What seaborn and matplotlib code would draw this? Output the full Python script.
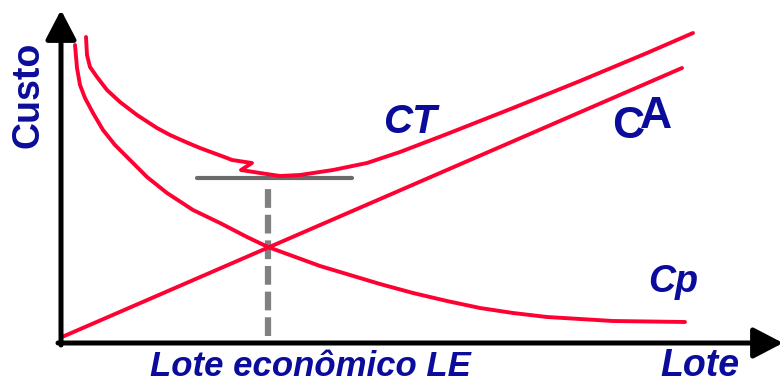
import pandas as pd
import seaborn as sns
import matplotlib.pyplot as plt

# curve points (lote, custo)
ct_lote = [0.25, 0.26, 0.29, 0.36, 0.46, 0.59, 0.76, 0.96, 1.09, 1.27, 1.39, 1.66,
           1.71, 1.91, 1.80, 1.99, 2.19, 2.39, 2.72, 3.06, 3.39, 3.86, 4.52, 5.19,
           5.86, 6.32]
ct_custo = [3.06, 2.88, 2.76, 2.66, 2.53, 2.41, 2.28, 2.15, 2.08, 2.00, 1.95, 1.85,
            1.83, 1.80, 1.73, 1.70, 1.67, 1.68, 1.73, 1.80, 1.91, 2.09, 2.35, 2.62,
            2.90, 3.10]

ca_lote = [0.01, 6.21]
ca_custo = [0.06, 2.75]

cp_lote = [0.14, 0.16, 0.19, 0.24, 0.32, 0.42, 0.54, 0.66, 0.86, 1.06, 1.32, 1.59,
           1.86, 2.07, 2.59, 3.19, 3.52, 3.86, 4.19, 4.52, 4.86, 5.19, 5.52, 6.24]
cp_custo = [2.98, 2.75, 2.58, 2.45, 2.30, 2.13, 1.98, 1.86, 1.66, 1.50, 1.33, 1.20,
            1.06, 0.96, 0.77, 0.59, 0.50, 0.42, 0.35, 0.30, 0.26, 0.24, 0.22, 0.21]

lote_economico = 2.07
custo_minimo = 1.65

RED = "#ff0033"
NAVY = "#0c0c9c"

df = pd.DataFrame(
    {
        "lote": ct_lote + ca_lote + cp_lote,
        "custo": ct_custo + ca_custo + cp_custo,
        "curva": ["CT"] * len(ct_lote) + ["CA"] * len(ca_lote) + ["Cp"] * len(cp_lote),
    }
)

sns.set_theme(style="white")
plt.rcParams["font.family"] = ["Liberation Sans", "DejaVu Sans"]

fig = plt.figure(figsize=(7.83, 3.83), dpi=100)
ax = fig.add_axes([0, 0, 1, 1])
ax.set_xlim(-0.61, 7.22)
ax.set_ylim(-0.40, 3.43)
ax.axis("off")

# minimum line and dashed guide
ax.plot([1.36, 2.91], [custo_minimo, custo_minimo], color="#6a6a6a", lw=3, zorder=1)
ax.plot([lote_economico, lote_economico], [0.07, 1.58], color="#808080", lw=4.5,
        dashes=(3, 1.1), zorder=1)

sns.lineplot(
    data=df, x="lote", y="custo", hue="curva",
    palette={"CT": RED, "CA": RED, "Cp": RED},
    sort=False, estimator=None, legend=False, linewidth=2.8,
    solid_joinstyle="round", ax=ax, zorder=2,
)

# axes with arrow heads
arrow = dict(arrowstyle="-|>,head_length=0.9,head_width=0.47", color="black",
             lw=3.6, mutation_scale=20, shrinkA=0, shrinkB=0)
ax.annotate("", xy=(7.22, 0.0), xytext=(-0.03, 0.0), arrowprops=arrow)
ax.annotate("", xy=(0.0, 3.33), xytext=(0.0, -0.02), arrowprops=arrow)

ax.text(-0.33, 2.48, "Custo", rotation=90, ha="center", va="center",
        fontsize=27, fontweight="bold", color=NAVY)
ax.text(3.49, 2.21, "CT", ha="center", va="center", fontsize=29,
        fontweight="bold", fontstyle="italic", color=NAVY)
ax.text(5.67, 2.17, "C", ha="center", va="center", fontsize=32,
        fontweight="bold", color=NAVY)
ax.text(5.95, 2.27, "A", ha="center", va="center", fontsize=32,
        fontweight="bold", color=NAVY)
ax.text(5.87, 0.51, "Cp", ha="left", va="baseline", fontsize=27,
        fontweight="bold", fontstyle="italic", color=NAVY)
ax.text(0.89, -0.33, "Lote econômico LE", ha="left", va="baseline", fontsize=25,
        fontweight="bold", fontstyle="italic", color=NAVY)
ax.text(5.99, -0.33, "Lote", ha="left", va="baseline", fontsize=27,
        fontweight="bold", fontstyle="italic", color=NAVY)

plt.savefig("out.png", dpi=100)
